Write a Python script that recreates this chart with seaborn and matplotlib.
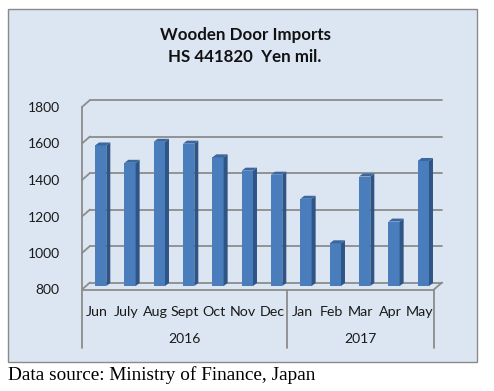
import numpy as np
import pandas as pd
import seaborn as sns
import matplotlib.pyplot as plt
from matplotlib.patches import Rectangle, Polygon

# --- data ---
months = ["Jun", "July", "Aug", "Sept", "Oct", "Nov", "Dec",
          "Jan", "Feb", "Mar", "Apr", "May"]
years = ["2016", "2016", "2016", "2016", "2016", "2016", "2016",
         "2017", "2017", "2017", "2017", "2017"]
imports = [1570, 1475, 1590, 1580, 1505, 1432, 1410,
           1278, 1034, 1400, 1153, 1485]
yticks = [800, 1000, 1200, 1400, 1600, 1800]

W, H = 494, 391
FRONT = "#4a7dbb"
SIDE = "#2e5585"
TOP = "#3b679f"
GRID = "#8c8c8c"
PANEL = "#dce6f2"

sns.set_style("white")
plt.rcParams["font.family"] = ["Lato", "DejaVu Sans"]

fig = plt.figure(figsize=(W / 100, H / 100), dpi=100)
fig.patch.set_facecolor("white")


def fx(x):
    return x / W


def fy(y):
    return 1 - y / H


# outer chart panel (behind everything)
fig.add_artist(Rectangle((fx(8), fy(362)), fx(469), (362 - 9) / H,
                         transform=fig.transFigure, facecolor=PANEL,
                         edgecolor="#8a8a8a", linewidth=1.0, zorder=-10))

# front plane of the plot area
ax = fig.add_axes([fx(82), fy(289.5), fx(352), (289.5 - 107) / H])
ax.patch.set_alpha(0)

df = pd.DataFrame({"month": months, "value": imports, "year": years})
sns.barplot(data=df, x="month", y="value", color=FRONT, saturation=1,
            width=0.385, ax=ax, zorder=5)

ax.set_xlim(-0.5, len(months) - 0.5)
ax.set_ylim(800, 1800)
for s in ax.spines.values():
    s.set_visible(False)

# pixels per data unit -> depth offsets in data units
p0 = ax.transData.transform((0, 800))
p1 = ax.transData.transform((1, 1800))
ppx = p1[0] - p0[0]
ppy = (p1[1] - p0[1]) / 1000.0
wall_dx, wall_dy = 8 / ppx, 7 / ppy
ox, oy = 4 / ppx, 3.5 / ppy
bx, by = 4 / ppx, 3 / ppy

x_lo, x_hi = -0.5, len(months) - 0.5
line_kw = dict(color=GRID, lw=1.3, clip_on=False, zorder=1)

# gridlines on the back wall, slanted across the left wall
for v in yticks:
    ax.plot([x_lo, x_lo + wall_dx], [v, v + wall_dy], **line_kw)
    ax.plot([x_lo + wall_dx, x_hi + wall_dx], [v + wall_dy, v + wall_dy], **line_kw)
# floor front edge and right slant
ax.plot([x_lo, x_hi], [800, 800], **line_kw)
ax.plot([x_hi, x_hi + wall_dx], [800, 800 + wall_dy], **line_kw)
# left wall front edge
ax.plot([x_lo, x_lo], [800, 1800], **line_kw)

# 3D look for the bars
for i, p in enumerate(ax.patches[:len(imports)]):
    h = imports[i]
    x0, w = p.get_x() + ox, p.get_width()
    p.set_x(x0)
    p.set_y(800 + oy)
    p.set_height(h - 800)
    p.set_clip_on(False)
    p.set_edgecolor("none")
    ax.add_patch(Polygon([(x0 + w, 800 + oy), (x0 + w, h + oy),
                          (x0 + w + bx, h + oy + by), (x0 + w + bx, 800 + oy + by)],
                         closed=True, facecolor=SIDE, edgecolor="none",
                         clip_on=False, zorder=5))
    ax.add_patch(Polygon([(x0, h + oy), (x0 + w, h + oy),
                          (x0 + w + bx, h + oy + by), (x0 + bx, h + oy + by)],
                         closed=True, facecolor=TOP, edgecolor="none",
                         clip_on=False, zorder=5))

# y tick labels
ax.set_yticks(yticks)
ax.set_yticklabels([str(v) for v in yticks], fontsize=10, color="#1a1a1a")
ax.tick_params(axis="y", length=0, pad=16)

# month labels
ax.set_xticks(range(len(months)))
ax.set_xticklabels(months, fontsize=10.3, color="#1a1a1a")
ax.tick_params(axis="x", length=0, pad=12)
ax.set_xlabel("")
ax.set_ylabel("")

# year group labels and dividers
trans = ax.get_xaxis_transform()
groups = df.groupby("year", sort=False).size()
start = 0
bounds = [x_lo]
for yr, n in groups.items():
    mid = start + (n - 1) / 2
    ax.text(mid, -0.27, yr, transform=trans, ha="center", va="center",
            fontsize=10, color="#1a1a1a")
    start += n
    bounds.append(start - 0.5)
for b in bounds:
    ax.plot([b, b], [0, -0.32], transform=trans, color=GRID, lw=1.3, clip_on=False)

# title
fig.text(fx(245), fy(35), "Wooden Door Imports", ha="center", va="center",
         fontsize=12.2, fontweight="bold", color="#111111")
fig.text(fx(245), fy(57), "HS 441820  Yen mil.", ha="center", va="center",
         fontsize=12.2, fontweight="bold", color="#111111")

# source note
fig.text(fx(8), fy(375), "Data source: Ministry of Finance, Japan",
         ha="left", va="center", fontsize=13.9, family="Liberation Serif",
         color="black")

fig.savefig("out.png", dpi=100)
